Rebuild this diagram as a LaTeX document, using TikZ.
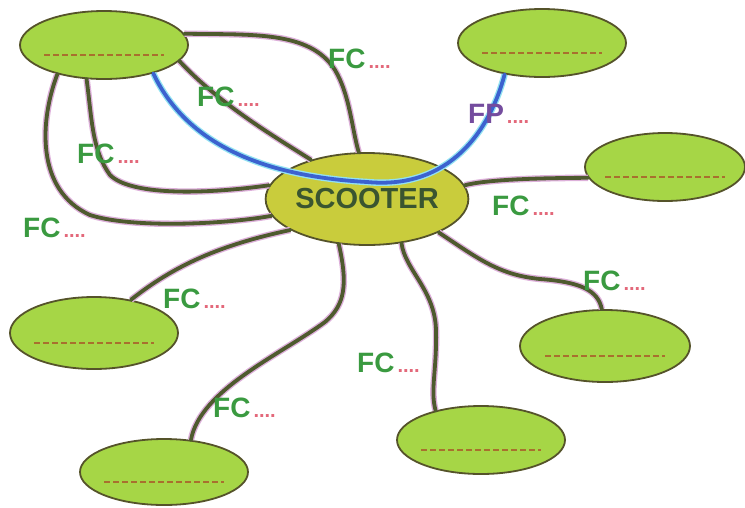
\documentclass[tikz,border=0pt]{standalone}
\usepackage{fontspec}
\setmainfont{Liberation Sans}
\usetikzlibrary{shapes.geometric,calc}
\definecolor{eltgreen}{HTML}{A6D646}
\definecolor{prodolive}{HTML}{C9CC3C}
\definecolor{rimbrown}{HTML}{55532A}
\definecolor{linkolive}{HTML}{4E5A2E}
\definecolor{linkhalo}{HTML}{DDB0DA}
\definecolor{fpblue}{HTML}{3C62CF}
\definecolor{fphalo}{HTML}{93E2F2}
\definecolor{fcgreen}{HTML}{3A9A40}
\definecolor{fppurple}{HTML}{744C9E}
\definecolor{dotpink}{HTML}{E3687A}
\definecolor{titlegreen}{HTML}{3A5530}
\definecolor{dashbrown}{HTML}{A8702E}
\newcommand{\fcdots}{\kern3pt\textcolor{dotpink}{\fontsize{20}{20}\selectfont....}}
\tikzset{
  elt_n/.style = {ellipse, draw=rimbrown, line width=1.8pt, fill=eltgreen, inner sep=0pt, minimum width=168pt, minimum height=68pt},
  prod_n/.style = {ellipse, draw=rimbrown, line width=1.8pt, fill=prodolive, inner sep=0pt, minimum width=200pt, minimum height=92pt, text=titlegreen, font=\bfseries\fontsize{29}{29}\selectfont},
  fc_l/.style = {anchor=base west, inner sep=0pt, text=fcgreen, font=\bfseries\fontsize{28}{28}\selectfont},
  fp_l/.style = {fc_l, text=fppurple},
  fc_c/.style = {draw=linkolive, line width=3.8pt, line cap=round, preaction={draw=linkhalo, line width=6.5pt}},
  fp_c/.style = {draw=fpblue, line width=3.8pt, line cap=round, preaction={draw=fphalo, line width=6.5pt}},
  ph_l/.style = {draw=dashbrown, line width=1.4pt, dash pattern=on 6pt off 3pt}
}

\begin{document}
\begin{tikzpicture}[x=1pt, y=-1pt]
	\useasboundingbox (0,0) rectangle (745,507);
	\node [prod_n] (scooter) at (367,199) {SCOOTER};
	\node [elt_n] (tl) at (104,45) {};
	\node [elt_n] (tr) at (542,43) {};
	\node [elt_n, minimum width=160pt] (rt) at (665,167) {};
	\node [elt_n, minimum height=72pt] (lf) at (94,333) {};
	\node [elt_n, minimum height=66pt] (bl) at (164,472) {};
	\node [elt_n] (bm) at (481,440) {};
	\node [elt_n, minimum width=170pt, minimum height=72pt] (br) at (605,346) {};
	\foreach \n in {tl,tr,rt,lf,bl,bm,br}
		\draw [ph_l] ($(\n.center)+(-60,10)$) -- ++(120,0);

	\draw [fc_c] (tl.8) .. controls (250,35) and (310,30) .. (335,70)
		.. controls (350,95) and (352,130) .. (scooter.100);
	\draw [fc_c] (tl.-12) .. controls (220,105) and (280,140) .. (scooter.145);
	\draw [fc_c] (tl.-117) .. controls (92,120) and (92,150) .. (110,175)
		.. controls (130,195) and (200,195) .. (scooter.172);
	\draw [fc_c] (tl.-148) .. controls (40,120) and (35,190) .. (90,215)
		.. controls (130,228) and (220,225) .. (scooter.-170);
	\draw [fc_c] (scooter.-158) .. controls (220,245) and (175,265) .. (lf.42);
	\draw [fc_c] (scooter.-122) .. controls (348,285) and (345,305) .. (325,322)
		.. controls (280,355) and (200,390) .. (bl.50);
	\draw [fc_c] (scooter.-52) .. controls (405,270) and (435,290) .. (436,330)
		.. controls (437,370) and (430,390) .. (bm.147);
	\draw [fc_c] (scooter.-25) .. controls (480,260) and (500,275) .. (540,279)
		.. controls (580,282) and (598,290) .. (br.95);
	\draw [fc_c] (scooter.8) .. controls (485,180) and (530,178) .. (rt.-172);
	\draw [fp_c] (tl.-30) .. controls (180,130) and (240,175) .. (367,182)
		.. controls (450,190) and (490,130) .. (tr.-140);

	\node [fc_l] (fc1) at (328,68) {FC\fcdots};
	\node [fc_l] (fc2) at (197,106) {FC\fcdots};
	\node [fc_l] (fc3) at (77,163) {FC\fcdots};
	\node [fc_l] (fc4) at (23,237) {FC\fcdots};
	\node [fc_l] (fc5) at (163,308) {FC\fcdots};
	\node [fc_l] (fc6) at (213,417) {FC\fcdots};
	\node [fc_l] (fc7) at (357,372) {FC\fcdots};
	\node [fc_l] (fc8) at (583,290) {FC\fcdots};
	\node [fc_l] (fc9) at (492,215) {FC\fcdots};
	\node [fp_l] (fp1) at (468,123) {FP\fcdots};
\end{tikzpicture}
\end{document}
